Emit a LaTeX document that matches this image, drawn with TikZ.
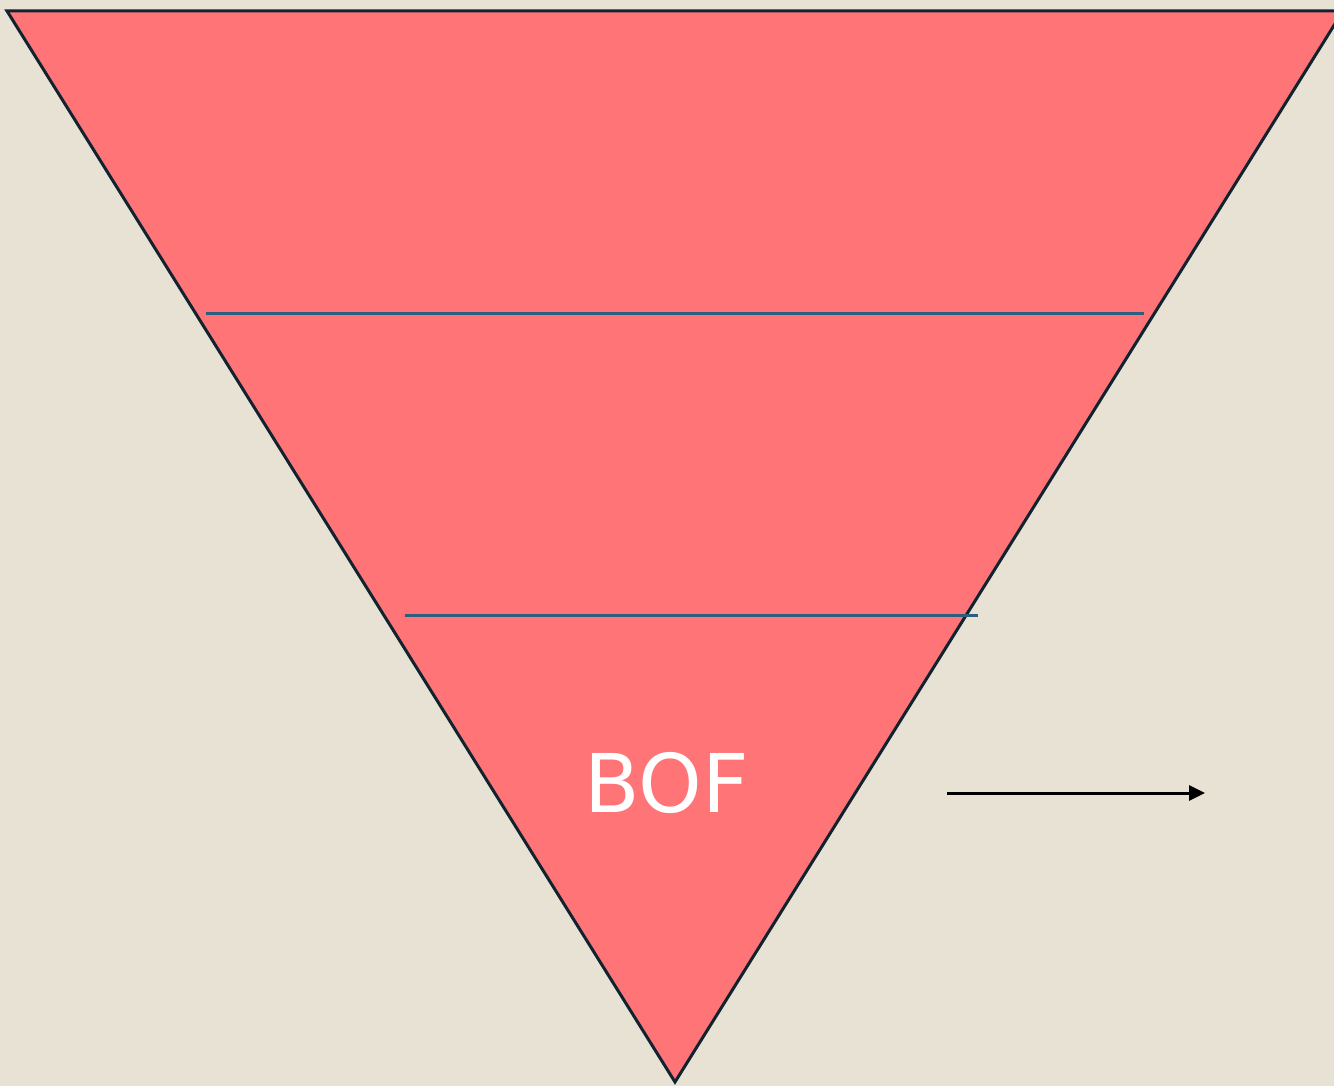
\documentclass[tikz,border=0pt]{standalone}
\usepackage{fontspec}
\setmainfont{DejaVu Sans}
\usetikzlibrary{arrows.meta}
\definecolor{bgc}{HTML}{E8E2D4}
\definecolor{funnel}{HTML}{FF7477}
\definecolor{edgec}{HTML}{10232F}
\definecolor{divc}{HTML}{2C5F7F}
\tikzset{
  funnelshape/.style={fill=funnel, draw=edgec, line width=3pt, line join=miter},
  divider/.style={draw=divc, line width=3pt},
  flowarrow/.style={draw=black, line width=3pt, -{Triangle[length=16pt,width=15pt]}},
  label/.style={text=white, font=\fontsize{81}{90}\selectfont, inner sep=0pt, anchor=base}
}
\begin{document}
\begin{tikzpicture}[x=1pt,y=-1pt]
\useasboundingbox (0,0) rectangle (1334,1086);
\fill[bgc] (0,0) rectangle (1334,1086);
\clip (0,0) rectangle (1334,1086);
\coordinate (tl) at (7,11);
\coordinate (tr) at (1343,11);
\coordinate (bt) at (675,1082);
\draw[funnelshape] (tl) -- (tr) -- (bt) -- cycle;
\coordinate (d1a) at (206,313);
\coordinate (d1b) at (1144,313);
\coordinate (d2a) at (405,615);
\coordinate (d2b) at (978,615);
\draw[divider] (d1a) -- (d1b);
\draw[divider] (d2a) -- (d2b);
\node[label] (bof) at (667,812) {BOF};
\coordinate (a1) at (947,793);
\coordinate (a2) at (1205,793);
\draw[flowarrow] (a1) -- (a2);
\end{tikzpicture}
\end{document}
